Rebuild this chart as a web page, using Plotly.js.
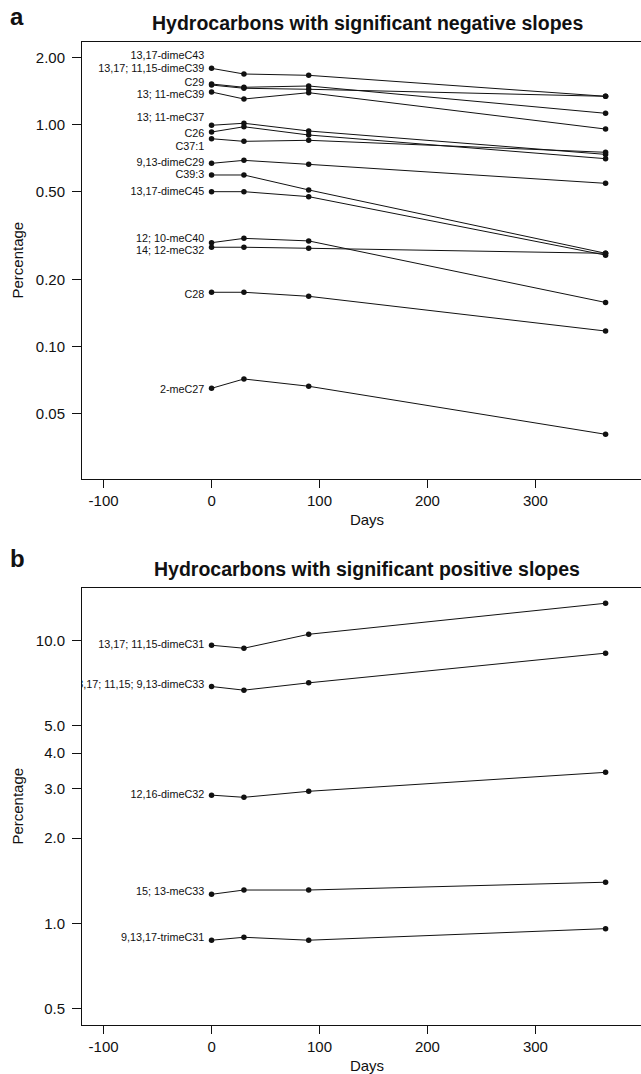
<!DOCTYPE html>
<html>
<head>
<meta charset="utf-8">
<script src="https://cdn.plot.ly/plotly-3.0.1.min.js"></script>
<style>
html, body { margin: 0; padding: 0; overflow: hidden; background: #fff; }
#chart { width: 660px; height: 1074px; }
</style>
</head>
<body>
<div id="chart"></div>
<script>
// ---- data ----
const days = [0, 30, 90, 365];

const negNames = ["13,17-dimeC43", "13,17; 11,15-dimeC39", "C29", "13; 11-meC39",
  "13; 11-meC37", "C26", "C37:1", "9,13-dimeC29", "C39:3", "13,17-dimeC45",
  "12; 10-meC40", "14; 12-meC32", "C28", "2-meC27"];
const negValues = [
  [1.788, 1.686, 1.663, 1.338],
  [1.520, 1.469, 1.489, 1.122],
  [1.504, 1.454, 1.439, 1.338],
  [1.399, 1.301, 1.389, 0.953],
  [0.991, 1.012, 0.934, 0.733],
  [0.924, 0.976, 0.896, 0.701],
  [0.862, 0.839, 0.848, 0.749],
  [0.668, 0.689, 0.661, 0.543],
  [0.592, 0.592, 0.507, 0.263],
  [0.498, 0.498, 0.473, 0.258],
  [0.2935, 0.307, 0.299, 0.158],
  [0.280, 0.280, 0.277, 0.263],
  [0.1756, 0.1756, 0.1684, 0.1175],
  [0.0649, 0.0715, 0.0663, 0.0403]
];
const negLabelY = [2.017, 1.770, 1.531, 1.346, 1.065, 0.905, 0.789, 0.668, 0.588, 0.493, 0.305, 0.2674, 0.1707, 0.0638];

const posNames = ["13,17; 11,15-dimeC31", "13,17; 11,15; 9,13-dimeC33", "12,16-dimeC32", "15; 13-meC33", "9,13,17-trimeC31"];
const posValues = [
  [9.63, 9.40, 10.53, 13.56],
  [6.88, 6.68, 7.09, 9.03],
  [2.84, 2.79, 2.93, 3.42],
  [1.266, 1.311, 1.311, 1.397],
  [0.871, 0.892, 0.871, 0.957]
];
const posLabelY = [9.63, 6.94, 2.84, 1.283, 0.882];

const xTicks = [-100, 0, 100, 200, 300];
const xTickText = ["-100", "0", "100", "200", "300"];
const negTicks = [2, 1, 0.5, 0.2, 0.1, 0.05];
const negTickText = ["2.00", "1.00", "0.50", "0.20", "0.10", "0.05"];
const posTicks = [10, 5, 4, 3, 2, 1, 0.5];
const posTickText = ["10.0", "5.0", "4.0", "3.0", "2.0", "1.0", "0.5"];

// ---- layout helpers ----
const W = 660, H = 1074, ML = 82, MR = 8;
const xp = px => (px - ML) / (W - ML - MR);
const yp = py => 1 - py / H;
const FONT = "Liberation Sans, Arial, Helvetica, sans-serif";

const traces = [];
function addPanel(names, values, labelY, xa, ya) {
  values.forEach((v, i) => {
    traces.push({
      x: days, y: v, xaxis: xa, yaxis: ya, type: "scatter", mode: "lines+markers",
      line: { color: "#111", width: 1 },
      marker: { color: "#111", size: 5.5 },
      hoverinfo: "skip", showlegend: false, name: names[i]
    });
  });
  traces.push({
    x: labelY.map(() => days[0]), y: labelY, xaxis: xa, yaxis: ya, type: "scatter",
    mode: "markers+text", text: names, textposition: "middle left",
    textfont: { family: FONT, size: 10.8, color: "#111" },
    marker: { size: 10, opacity: 0 }, cliponaxis: true,
    hoverinfo: "skip", showlegend: false
  });
}
addPanel(negNames, negValues, negLabelY, "x", "y");
addPanel(posNames, posValues, posLabelY, "x2", "y2");

const xCommon = {
  range: [-120, 408], tickvals: xTicks, ticktext: xTickText,
  ticks: "outside", ticklen: 8, tickwidth: 1, tickcolor: "#111",
  showline: true, mirror: true, linecolor: "#111", linewidth: 1,
  showgrid: false, zeroline: false,
  tickfont: { family: FONT, size: 15, color: "#111" },
  title: { text: "Days", font: { family: FONT, size: 15, color: "#111" }, standoff: 6 }
};
const yCommon = {
  type: "log", ticks: "outside", ticklen: 9, tickwidth: 1, tickcolor: "#111",
  showline: true, mirror: true, linecolor: "#111", linewidth: 1,
  showgrid: false, zeroline: false, ticklabelstandoff: 4,
  tickfont: { family: FONT, size: 15, color: "#111" },
  title: { text: "Percentage", font: { family: FONT, size: 15, color: "#111" }, standoff: 8 }
};

const layout = {
  width: W, height: H,
  margin: { l: ML, r: MR, t: 0, b: 0 },
  paper_bgcolor: "#fff", plot_bgcolor: "#fff",
  showlegend: false,
  xaxis: Object.assign({}, xCommon, { domain: [0, 1], anchor: "y" }),
  yaxis: Object.assign({}, yCommon, {
    domain: [yp(478.7), yp(41.7)], anchor: "x",
    range: [-1.5945, 0.3722], tickvals: negTicks, ticktext: negTickText
  }),
  xaxis2: Object.assign({}, xCommon, { domain: [0, 1], anchor: "y2" }),
  yaxis2: Object.assign({}, yCommon, {
    domain: [yp(1025), yp(587.5)], anchor: "x2",
    range: [-0.36, 1.188], tickvals: posTicks, ticktext: posTickText
  }),
  annotations: [
    { text: "<b>a</b>", xref: "paper", yref: "paper", x: xp(17), y: yp(17), xanchor: "center", yanchor: "middle",
      showarrow: false, font: { family: FONT, size: 24, color: "#111" } },
    { text: "<b>b</b>", xref: "paper", yref: "paper", x: xp(17), y: yp(558), xanchor: "center", yanchor: "middle",
      showarrow: false, font: { family: FONT, size: 24, color: "#111" } },
    { text: "<b>Hydrocarbons with significant negative slopes</b>", xref: "x domain", yref: "paper", x: 0.5, y: yp(23),
      xanchor: "center", yanchor: "middle", showarrow: false, font: { family: FONT, size: 19.5, color: "#111" } },
    { text: "<b>Hydrocarbons with significant positive slopes</b>", xref: "x2 domain", yref: "paper", x: 0.5, y: yp(569),
      xanchor: "center", yanchor: "middle", showarrow: false, font: { family: FONT, size: 19.5, color: "#111" } }
  ]
};

Plotly.newPlot("chart", traces, layout, { displayModeBar: false, staticPlot: true });
</script>
</body>
</html>
